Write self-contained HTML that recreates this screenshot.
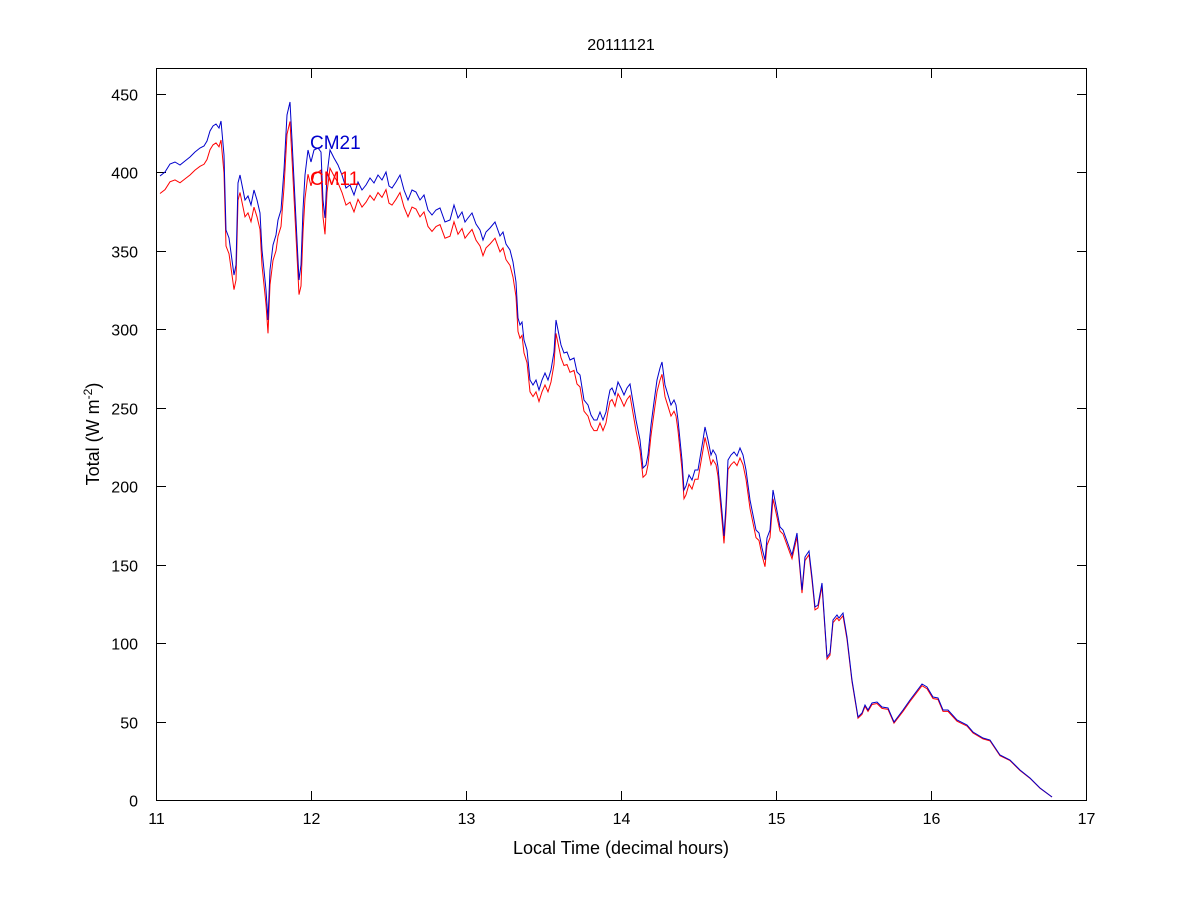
<!DOCTYPE html>
<html><head><meta charset="utf-8"><style>
body{margin:0;background:#fff;}
svg text{font-family:"Liberation Sans",Arial,sans-serif;}
</style></head><body>
<svg id="s" width="1200" height="900" xmlns="http://www.w3.org/2000/svg">
<rect width="1200" height="900" fill="#fff"/>
<g id="ticks" stroke="#000" stroke-width="1"></g>
<rect x="156.5" y="68.5" width="930" height="732" fill="none" stroke="#000"/>
<g id="lbl" font-size="16" fill="#000"></g>
<polyline id="red" fill="none" stroke="#f00" stroke-width="1"/>
<polyline id="blue" fill="none" stroke="#00c" stroke-width="1"/>
<text x="621" y="50" font-size="16" text-anchor="middle">20111121</text>
<text x="621" y="854" font-size="18" text-anchor="middle">Local Time (decimal hours)</text>
<text transform="translate(99,434) rotate(-90)" font-size="18" text-anchor="middle">Total (W m<tspan font-size="12" dy="-7">-2</tspan><tspan dy="7">)</tspan></text>
<text x="310" y="149" font-size="19" fill="#00c">CM21</text>
<text x="310" y="185" font-size="19" fill="#f00">CM11</text>
</svg>
<script>
var b=[[160,176],[165,172],[170,164],[175,162],[180,165],[185,161],[190,157],[195,152],[200,148],[204,146],[207,141],[210,131],[213,126],[216,124],[219,128],[221,121],[224,155],[226,230],[229,238],[232,260],[234,275],[236,265],[238,183],[240,175],[242,185],[245,200],[248,196],[251,205],[254,190],[257,200],[260,213],[262,250],[264,270],[266,290],[268,320],[270,270],[273,245],[276,235],[278,220],[281,210],[284,170],[287,115],[290,102],[292,140],[294,180],[297,240],[299,280],[301,265],[303,210],[305,175],[308,150],[311,162],[314,150],[318,148],[321,152],[323,200],[325,218],[327,175],[330,150],[334,158],[338,165],[342,175],[346,188],[350,185],[354,195],[358,182],[362,190],[366,185],[370,178],[374,183],[378,175],[382,180],[386,172],[389,186],[392,188],[396,182],[400,175],[404,190],[408,200],[412,190],[416,192],[420,200],[424,195],[428,210],[432,215],[436,210],[440,208],[445,222],[450,220],[454,205],[458,218],[462,212],[465,222],[468,218],[472,213],[476,224],[480,230],[483,240],[486,232],[490,228],[495,222],[500,236],[503,232],[506,244],[510,250],[513,262],[516,282],[518,318],[520,325],[522,322],[524,340],[527,350],[530,380],[533,385],[536,380],[539,390],[542,380],[545,373],[548,380],[551,370],[554,352],[556,320],[558,330],[561,345],[564,353],[567,352],[570,360],[574,358],[577,372],[580,375],[584,400],[588,405],[591,415],[594,420],[597,420],[600,412],[603,420],[606,412],[608,400],[610,390],[612,388],[615,395],[618,382],[621,388],[624,395],[627,388],[630,384],[633,402],[636,420],[640,440],[643,468],[646,465],[648,455],[651,425],[654,402],[657,380],[660,368],[662,362],[665,385],[668,395],[671,405],[674,400],[676,405],[678,420],[680,440],[682,460],[684,490],[686,486],[689,475],[692,480],[695,470],[698,470],[700,458],[703,440],[705,427],[708,440],[711,455],[713,450],[716,455],[718,467],[720,490],[722,512],[724,536],[726,505],[728,460],[731,455],[734,452],[737,456],[740,448],[743,455],[746,470],[748,485],[750,500],[753,515],[756,530],[759,533],[762,548],[765,560],[767,538],[770,530],[773,490],[780,527],[783,530],[792,555],[797,533],[802,590],[805,557],[809,551],[812,577],[815,607],[818,605],[822,583],[827,657],[830,653],[833,620],[837,615],[839,618],[843,613],[847,637],[852,680],[858,717],[862,713],[865,705],[868,710],[872,703],[877,702],[882,707],[888,708],[894,722],[903,710],[910,700],[922,684],[927,687],[933,697],[938,698],[943,710],[948,710],[957,720],[967,725],[973,732],[983,738],[990,740],[1000,755],[1010,760],[1020,770],[1030,778],[1040,788],[1052,797]];
function f(p){return p.map(function(q){return q[0]+','+q[1]}).join(' ');}
document.getElementById('blue').setAttribute('points',f(b));
var r=b.map(function(q){var d=800-q[1];var k=q[0]<780?0.972:0.985;var y=800-d*k;if(q[0]>300&&q[0]<320)y+=6;return [q[0],y.toFixed(1)];});
document.getElementById('red').setAttribute('points',f(r));
var t=document.getElementById('ticks'),l=document.getElementById('lbl'),ns='http://www.w3.org/2000/svg';
function ln(x1,y1,x2,y2){var e=document.createElementNS(ns,'line');e.setAttribute('x1',x1);e.setAttribute('y1',y1);e.setAttribute('x2',x2);e.setAttribute('y2',y2);t.appendChild(e);}
function tx(x,y,s,a){var e=document.createElementNS(ns,'text');e.setAttribute('x',x);e.setAttribute('y',y);e.setAttribute('text-anchor',a);e.textContent=s;l.appendChild(e);}
for(var i=0;i<=6;i++){var x=156.5+155*i;ln(x,800,x,791);ln(x,69,x,78);tx(x,824,String(11+i),'middle');}
for(var j=0;j<=9;j++){var y=Math.round(800-50*j*1.5689)+0.5;ln(157,y,166,y);ln(1086,y,1077,y);tx(138,y+6,String(50*j),'end');}
</script>
</body></html>
